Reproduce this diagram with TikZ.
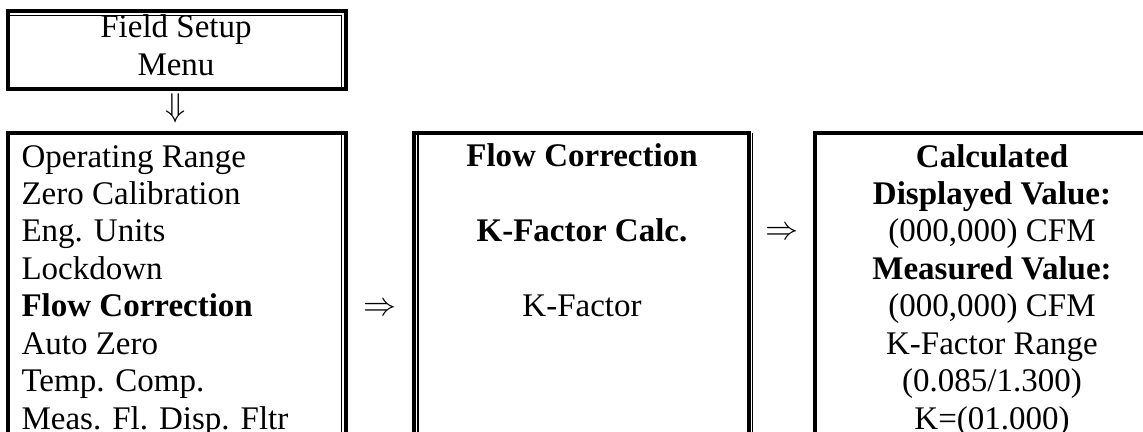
\documentclass[tikz,border=0pt]{standalone}
\usepackage{fontspec}
\setmainfont{Liberation Serif}
\usetikzlibrary{positioning}

\begin{document}
\begin{tikzpicture}[x=0.3636pt,y=-0.3636pt,
  frame/.style={line width=1.3pt},
  inner/.style={line width=0.45pt},
  txt/.style={inner sep=0pt,font=\fontsize{12}{13.6}\selectfont}]
  \clip (0,0) rectangle (1143,431);
  % Field setup box (text placed by its last baseline)
  \draw[frame] (8,11) rectangle (346,89);
  \draw[inner] (8,15.5) -- (341.5,15.5) -- (341.5,89);
  \node[txt,anchor=base,align=center] (menu) at (176,75) {Field Setup\\Menu};
  \node[txt] (down) at (176,108) {$\Downarrow$};
  % Menu list box
  \draw[frame] (8,133) rectangle (346,470);
  \draw[inner] (341.5,133) -- (341.5,470);
  \node[txt,anchor=base west,align=left] (list) at (21,429)
    {Operating Range\\Zero Calibration\\Eng. Units\\Lockdown\\
     \textbf{Flow Correction}\\Auto Zero\\Temp. Comp.\\Meas. Fl. Disp. Fltr};
  \node[txt] (to flow) at (380,309) {$\Rightarrow$};
  % Flow correction box
  \draw[frame] (414,133) rectangle (749,470);
  \draw[inner] (418,133) -- (418,470);
  \draw[inner] (752.5,133) -- (752.5,470);
  \node[txt,anchor=base,align=center] (flow) at (582,316.6)
    {\textbf{Flow Correction}\\~\\\textbf{K-Factor Calc.}\\~\\K-Factor};
  \node[txt] (to calc) at (782,233) {$\Rightarrow$};
  % Calculated value box
  \draw[frame] (815,133) rectangle (1170,470);
  \node[txt,anchor=base,align=center] (calc) at (992,429)
    {\textbf{Calculated}\\\textbf{Displayed Value:}\\(000,000) CFM\\
     \textbf{Measured Value:}\\(000,000) CFM\\K-Factor Range\\(0.085/1.300)\\K=(01.000)};
\end{tikzpicture}
\end{document}
